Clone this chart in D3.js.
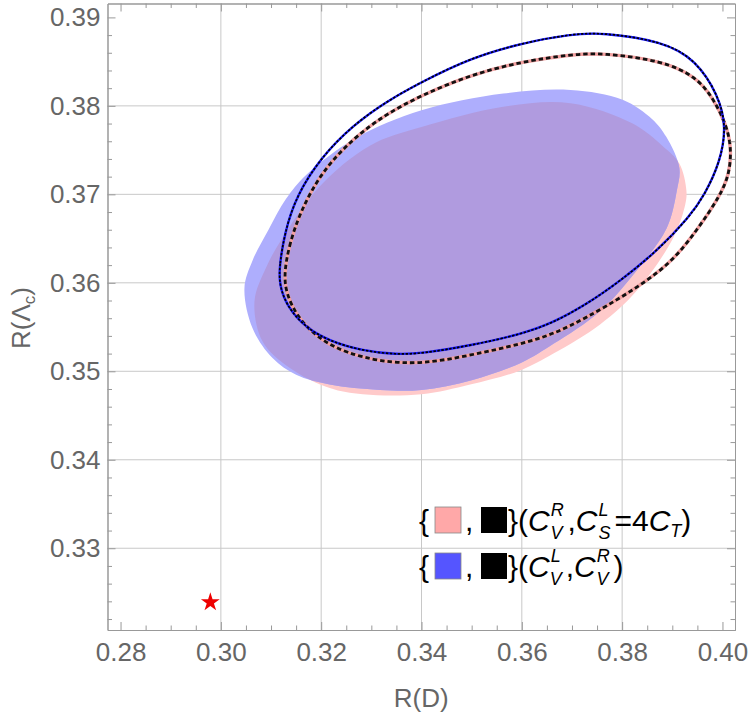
<!DOCTYPE html>
<html>
<head>
<meta charset="utf-8">
<script src="https://cdn.jsdelivr.net/npm/d3@7"></script>
<style>
  body { margin: 0; background: #fff; }
  text { font-family: "Liberation Sans", Arial, sans-serif; }
</style>
</head>
<body>
<script>
// region boundaries, [R(D), R(Lambda_c)]
var blueRegion = [
  [0.3047, 0.3594], [0.3063, 0.3625], [0.3095, 0.3660], [0.3130, 0.3695],
  [0.3170, 0.3722], [0.3270, 0.3764], [0.3400, 0.3795], [0.3563, 0.3814],
  [0.3697, 0.3818], [0.3801, 0.3807], [0.3860, 0.3785], [0.3888, 0.3765],
  [0.3914, 0.3730], [0.3909, 0.3704], [0.3889, 0.3662], [0.3829, 0.3614],
  [0.3756, 0.3568], [0.3663, 0.3531], [0.3600, 0.3510], [0.3500, 0.3490],
  [0.3400, 0.3479], [0.3317, 0.3479], [0.3217, 0.3485], [0.3150, 0.3496],
  [0.3103, 0.3515], [0.3063, 0.3549]
];
var redRegion = [
  [0.3067, 0.3579], [0.3090, 0.3617], [0.3123, 0.3651], [0.3197, 0.3709],
  [0.3297, 0.3755], [0.3400, 0.3776], [0.3563, 0.3799], [0.3697, 0.3803],
  [0.3821, 0.3780], [0.3880, 0.3755], [0.3914, 0.3735], [0.3928, 0.3705],
  [0.3926, 0.3689], [0.3902, 0.3651], [0.3829, 0.3591], [0.3756, 0.3553],
  [0.3663, 0.3520], [0.3597, 0.3501], [0.3497, 0.3485], [0.3400, 0.3474],
  [0.3283, 0.3474], [0.3217, 0.3481], [0.3137, 0.3504], [0.3083, 0.3534]
];
var blueContour = [
  [0.3116, 0.3598], [0.3117, 0.3620], [0.3127, 0.3656], [0.3150, 0.3698],
  [0.3200, 0.3742], [0.3263, 0.3778], [0.3330, 0.3805], [0.3400, 0.3827],
  [0.3497, 0.3854], [0.3600, 0.3871], [0.3697, 0.3881], [0.3760, 0.3883],
  [0.3881, 0.3873], [0.3947, 0.3852], [0.3992, 0.3812], [0.4008, 0.3776],
  [0.3995, 0.3736], [0.3965, 0.3700], [0.3935, 0.3675], [0.3870, 0.3636],
  [0.3796, 0.3602], [0.3730, 0.3576], [0.3663, 0.3555], [0.3600, 0.3542],
  [0.3497, 0.3529], [0.3400, 0.3520], [0.3350, 0.3519], [0.3283, 0.3523],
  [0.3217, 0.3534], [0.3170, 0.3549], [0.3133, 0.3572]
];
var redContour = [
  [0.3126, 0.3610], [0.3135, 0.3640], [0.3157, 0.3679], [0.3200, 0.3725],
  [0.3263, 0.3763], [0.3330, 0.3791], [0.3400, 0.3812], [0.3497, 0.3835],
  [0.3600, 0.3850], [0.3697, 0.3858], [0.3760, 0.3860], [0.3881, 0.3851],
  [0.3947, 0.3833], [0.3980, 0.3810], [0.4007, 0.3780], [0.4018, 0.3753],
  [0.4014, 0.3723], [0.3995, 0.3698], [0.3950, 0.3660], [0.3895, 0.3620],
  [0.3809, 0.3587], [0.3730, 0.3561], [0.3663, 0.3542], [0.3600, 0.3531],
  [0.3497, 0.3518], [0.3400, 0.3508], [0.3317, 0.3511], [0.3250, 0.3521],
  [0.3203, 0.3534], [0.3157, 0.3557], [0.3130, 0.3587]
];
var smPoint = [0.2979, 0.3239];

var xTicks = [0.28, 0.30, 0.32, 0.34, 0.36, 0.38, 0.40];
var yTicks = [0.33, 0.34, 0.35, 0.36, 0.37, 0.38, 0.39];
var xGrid = [0.30, 0.32, 0.34, 0.36, 0.38];
var yGrid = [0.33, 0.34, 0.35, 0.36, 0.37, 0.38];

var W = 750, H = 713;
var L = 107.5, R = 735, T = 3.5, B = 630;

var svg = d3.select("body").append("svg")
  .attr("width", W)
  .attr("height", H);

var x = d3.scaleLinear().domain([0.2774, 0.4025]).range([L, R]);
var y = d3.scaleLinear().domain([0.32076, 0.39157]).range([B, T]);

var xMinor = d3.range(0.28, 0.4026, 0.005).filter(function(v) { return Math.abs(v * 50 - Math.round(v * 50)) > 1e-6; });
var yMinor = d3.range(0.322, 0.3916, 0.002).filter(function(v) { return Math.abs(v * 100 - Math.round(v * 100)) > 1e-6; });

// grid
svg.append("g").selectAll("line").data(xGrid).enter().append("line")
  .attr("x1", function(d) { return x(d); }).attr("x2", function(d) { return x(d); })
  .attr("y1", T).attr("y2", B)
  .attr("stroke", "#c8c8c8").attr("stroke-width", 1);
svg.append("g").selectAll("line").data(yGrid).enter().append("line")
  .attr("y1", function(d) { return y(d); }).attr("y2", function(d) { return y(d); })
  .attr("x1", L).attr("x2", R)
  .attr("stroke", "#c8c8c8").attr("stroke-width", 1);

// regions
var loop = d3.line()
  .x(function(d) { return x(d[0]); })
  .y(function(d) { return y(d[1]); })
  .curve(d3.curveCatmullRomClosed.alpha(0.5));
var smooth = d3.line()
  .x(function(d) { return x(d[0]); })
  .y(function(d) { return y(d[1]); })
  .curve(d3.curveBasisClosed);

svg.append("clipPath").attr("id", "blueClip")
  .append("path").attr("d", loop(blueRegion));

svg.append("path").attr("d", loop(redRegion))
  .attr("fill", "#ffcaca");
svg.append("path").attr("d", loop(blueRegion))
  .attr("fill", "#aeaefd");
svg.append("path").attr("d", loop(redRegion))
  .attr("clip-path", "url(#blueClip)")
  .attr("fill", "#b09bdf");

// contours
svg.append("path").attr("d", smooth(redContour))
  .attr("fill", "none").attr("stroke", "#f2a0a0").attr("stroke-width", 3.4);
svg.append("path").attr("d", smooth(redContour))
  .attr("fill", "none").attr("stroke", "#111").attr("stroke-width", 2.8)
  .attr("stroke-dasharray", "4.5,3");

svg.append("path").attr("d", smooth(blueContour))
  .attr("fill", "none").attr("stroke", "#1a1aff").attr("stroke-width", 2.4);
svg.append("path").attr("d", smooth(blueContour))
  .attr("fill", "none").attr("stroke", "#000").attr("stroke-width", 1.7)
  .attr("stroke-dasharray", "2.5,1.5");

// SM point
svg.append("path")
  .attr("d", d3.symbol().type(d3.symbolStar).size(110)())
  .attr("transform", "translate(" + x(smPoint[0]) + "," + y(smPoint[1]) + ")")
  .attr("fill", "#ee0000");

// frame with ticks on all sides
function frame(axis, tr, ticks, size, labels) {
  var g = svg.append("g").attr("transform", tr)
    .call(axis.tickValues(ticks).tickSize(-size).tickSizeOuter(0)
      .tickFormat(labels ? d3.format(".2f") : ""));
  g.select(".domain").attr("stroke", "#999");
  g.selectAll(".tick line").attr("stroke", "#999");
  g.selectAll(".tick text").attr("fill", "#666").attr("font-size", 26)
    .attr("font-family", "'Liberation Sans', Arial, sans-serif");
  return g;
}
var gb = frame(d3.axisBottom(x), "translate(0," + B + ")", xTicks, 8, true);
gb.selectAll(".tick text").attr("dy", "0.71em").attr("y", 13);
frame(d3.axisBottom(x), "translate(0," + B + ")", xMinor, 4.5, false);
frame(d3.axisTop(x), "translate(0," + T + ")", xTicks, 8, false);
frame(d3.axisTop(x), "translate(0," + T + ")", xMinor, 4.5, false);
var gl = frame(d3.axisLeft(y), "translate(" + L + ",0)", yTicks, 8, true);
gl.selectAll(".tick text").attr("x", -7);
frame(d3.axisLeft(y), "translate(" + L + ",0)", yMinor, 4.5, false);
frame(d3.axisRight(y), "translate(" + R + ",0)", yTicks, 8, false);
frame(d3.axisRight(y), "translate(" + R + ",0)", yMinor, 4.5, false);

// axis titles
svg.append("text")
  .attr("x", (L + R) / 2).attr("y", 707)
  .attr("text-anchor", "middle")
  .attr("font-size", 26).attr("fill", "#666")
  .text("R(D)");
var yt = svg.append("text")
  .attr("transform", "translate(30,318) rotate(-90)")
  .attr("text-anchor", "middle")
  .attr("font-size", 26).attr("fill", "#666");
yt.append("tspan").text("R(Λ");
yt.append("tspan").attr("font-size", 17).attr("dy", 5).text("c");
yt.append("tspan").attr("dy", -5).text(")");

// legend: one text element per line, scripts done with tspans
var lg = svg.append("g");
function legendLine(py, col, build) {
  lg.append("rect").attr("x", 435).attr("y", py - 24).attr("width", 26).attr("height", 26)
    .attr("fill", col).attr("stroke", "#888").attr("stroke-width", 0.8);
  lg.append("rect").attr("x", 481).attr("y", py - 24).attr("width", 26).attr("height", 26)
    .attr("fill", "#000");
  var t = lg.append("text").attr("y", py).attr("font-size", 30).attr("fill", "#000");
  t.append("tspan").attr("x", 419).text("{");
  t.append("tspan").attr("x", 465).text(",");
  t.append("tspan").attr("x", 508).text("}(");
  var st = { dx: 0, dy: 0 };
  function plain(str, italic, size, shift) {
    var s = t.append("tspan").attr("dx", st.dx).attr("dy", st.dy + (shift || 0))
      .attr("font-style", italic ? "italic" : "normal")
      .attr("font-size", size || 30).text(str);
    st = { dx: 0, dy: -(shift || 0) };
    return s;
  }
  function sym(sup, sub) {
    plain("C", true);
    var s1 = t.append("tspan").attr("dx", 1).attr("dy", -15)
      .attr("font-style", "italic").attr("font-size", 18).text(sup);
    var a = s1.node().getComputedTextLength();
    var s2 = t.append("tspan").attr("dx", -a).attr("dy", 23)
      .attr("font-style", "italic").attr("font-size", 18).text(sub);
    var b = s2.node().getComputedTextLength();
    st = { dx: Math.max(a, b) - b + 4, dy: -8 };
  }
  build(plain, sym);
}
legendLine(531, "#ffa8a8", function(plain, sym) {
  sym("R", "V");
  plain(",");
  sym("L", "S");
  plain("=4");
  plain("C", true);
  plain("T", true, 18, 6);
  plain(")");
});
legendLine(577, "#5555ff", function(plain, sym) {
  sym("L", "V");
  plain(",");
  sym("R", "V");
  plain(")");
});
</script>
</body>
</html>
